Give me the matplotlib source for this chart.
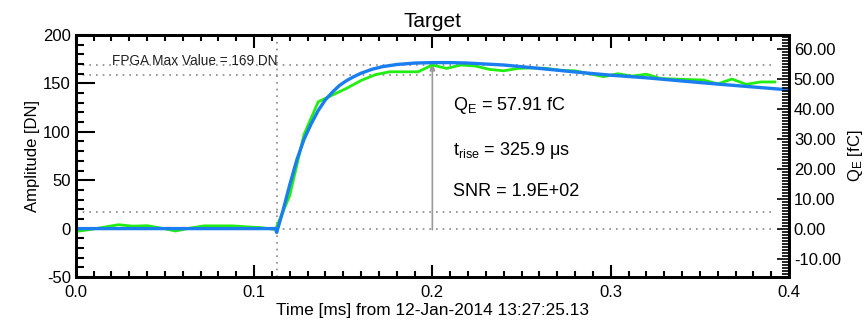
import matplotlib
matplotlib.use("Agg")
import matplotlib.pyplot as plt
from matplotlib.ticker import MultipleLocator, FormatStrFormatter

plt.rcParams['font.family'] = ['Liberation Sans', 'DejaVu Sans']
plt.rcParams['mathtext.fontset'] = 'custom'
plt.rcParams['mathtext.rm'] = 'Liberation Sans'
plt.rcParams['mathtext.it'] = 'Liberation Sans'
plt.rcParams['axes.unicode_minus'] = False

# measured samples, 8 us spacing
t_data = [0.008 * k for k in range(50)]
amp_data = [-3, -1, 1.5, 4, 2.5, 3, 0.5, -2.5, 0.5, 2.8,
            2.8, 2.8, 1.8, 1, -1, 34, 97, 131, 138, 145,
            153, 159, 162, 162, 162, 169, 165.5, 169, 168, 164.5,
            163, 165.5, 166, 165.5, 163.5, 163, 160, 157, 160, 157.5,
            159.5, 155, 154.5, 154, 153.5, 149.5, 154.5, 149, 151.5, 151.5]

# fitted pulse
t_fit = [0.0, 0.112, 0.1127, 0.116, 0.120, 0.124, 0.128, 0.132, 0.136, 0.140,
         0.144, 0.148, 0.152, 0.156, 0.160, 0.166, 0.172, 0.180, 0.190, 0.200,
         0.210, 0.220, 0.240, 0.260, 0.280, 0.300, 0.320, 0.340, 0.360, 0.380, 0.400]
amp_fit = [0, 0, -4, 17, 45, 71, 92, 108, 122, 133,
           141, 148, 153, 157, 160.5, 164.5, 167.3, 169.5, 171, 171.5,
           171.5, 171, 169, 165.5, 161.8, 158.5, 155.8, 152.5, 149.3, 146.3, 143.3]

fpga_max = 169
h_levels = [169, 159, 17, 0]
t_start = 0.1127
t_peak = 0.2
peak_top = 176
dn_per_fc = 3.10

fig = plt.figure(figsize=(8.64, 3.2), dpi=100)
ax = fig.add_axes([0.0876, 0.1344, 0.8256, 0.7562])

for lvl in h_levels:
    ax.plot([0.0, 0.392], [lvl, lvl], color='#888888', lw=1.2, ls=(0, (1, 3)), zorder=1)
ax.axvline(t_start, color='#888888', lw=1.2, ls=(0, (1, 3)), zorder=1)

ax.annotate('', xy=(t_peak, peak_top), xytext=(t_peak, -4),
            arrowprops=dict(arrowstyle='-|>,head_length=0.5,head_width=0.15',
                            color='#999999', lw=1.2), zorder=2)

ax.plot(t_data, amp_data, color='#22ee11', lw=2, zorder=3)
ax.plot(t_fit, amp_fit, color='#1a7df0', lw=2.4, zorder=4)

ax.text(0.0205, fpga_max, 'FPGA Max Value = %d DN' % fpga_max, fontsize=9.8,
        va='baseline', color='#222222', zorder=5)
ax.text(0.2114, 127.5, r'Q$_\mathregular{E}$ = 57.91 fC', fontsize=13, va='center')
ax.text(0.2114, 81, r't$_\mathregular{rise}$ = 325.9 $\mathregular{\mu}$s', fontsize=13, va='center')
ax.text(0.2114, 38, 'SNR = 1.9E+02', fontsize=13, va='center')

ax.set_xlim(0.0, 0.4)
ax.set_ylim(-50, 200)
ax.xaxis.set_major_locator(MultipleLocator(0.1))
ax.xaxis.set_minor_locator(MultipleLocator(0.01))
ax.xaxis.set_major_formatter(FormatStrFormatter('%.1f'))
ax.yaxis.set_major_locator(MultipleLocator(50))
ax.yaxis.set_minor_locator(MultipleLocator(10))
ax.tick_params(which='both', direction='in', top=True, right=False, labelsize=12, width=1.5)
ax.tick_params(axis='y', which='major', length=14)
ax.tick_params(axis='y', which='minor', length=6)
ax.tick_params(axis='x', which='major', length=9, pad=6)
ax.tick_params(axis='x', which='minor', length=4)

ax.set_title('Target', fontsize=15, pad=6)
ax.set_xlabel('Time [ms] from 12-Jan-2014 13:27:25.13', fontsize=12.4, labelpad=2)
ax.set_ylabel('Amplitude [DN]', fontsize=12, labelpad=2)

ax2 = ax.twinx()
ax2.set_ylim(-50 / dn_per_fc, 200 / dn_per_fc)
ax2.yaxis.set_major_locator(MultipleLocator(10))
ax2.yaxis.set_minor_locator(MultipleLocator(1))
ax2.yaxis.set_major_formatter(FormatStrFormatter('%.2f'))
ax2.tick_params(which='both', direction='in', labelsize=12, width=1.2)
ax2.tick_params(which='major', length=9)
ax2.tick_params(which='minor', length=5)
ax2.set_ylabel(r'Q$_\mathregular{E}$ [fC]', fontsize=12, labelpad=4)

for a in (ax, ax2):
    for s in a.spines.values():
        s.set_linewidth(2)

fig.savefig('out.png', dpi=100)
